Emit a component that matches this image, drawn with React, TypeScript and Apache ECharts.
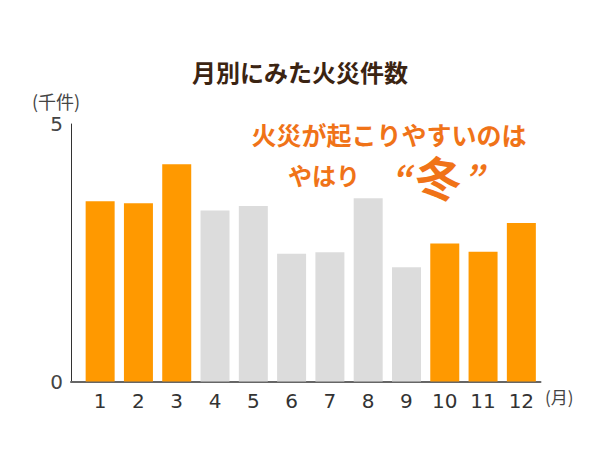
import React, { useEffect, useRef } from 'react';
import * as echarts from 'echarts';

// 月別火災件数（千件）
const months = ['1', '2', '3', '4', '5', '6', '7', '8', '9', '10', '11', '12'];
const fires = [3.5, 3.46, 4.22, 3.32, 3.41, 2.48, 2.51, 3.56, 2.22, 2.68, 2.52, 3.08];
// 冬の月を強調
const isWinter = [true, true, true, false, false, false, false, false, false, true, true, true];

const ORANGE = '#ff9900';
const GREY = '#dcdcdc';
const ACCENT = '#f07318';
const JP = '"Noto Sans CJK JP", sans-serif';
const NUM = '"DejaVu Sans", sans-serif';

const App: React.FC = () => {
  const chartRef = useRef<HTMLDivElement>(null);

  useEffect(() => {
    if (!chartRef.current) return;
    const chart = echarts.init(chartRef.current, null, { renderer: 'svg' });

    const accent = (text: string, size: number, extra: object = {}) => ({
      text,
      fontFamily: JP,
      fontSize: size,
      lineHeight: size,
      fontWeight: 'bold',
      fill: ACCENT,
      align: 'center',
      verticalAlign: 'middle',
      ...extra,
    });

    const option = {
      animation: false,
      backgroundColor: '#fff',
      title: {
        text: '月別にみた火災件数',
        left: 'center',
        top: 54,
        textStyle: { fontFamily: JP, fontSize: 24, fontWeight: 'bold', color: '#3b2412' },
      },
      grid: [
        // バー用
        { left: 81, right: 59.5, top: 124, bottom: 68.5 },
        // 軸線用
        { left: 71, right: 59.5, top: 124, bottom: 68.5 },
      ],
      xAxis: [
        {
          type: 'category',
          gridIndex: 0,
          data: months,
          axisLine: { show: false },
          axisTick: { show: false },
          axisLabel: { fontFamily: NUM, fontSize: 20, color: '#333', margin: 9 },
        },
        {
          type: 'value',
          gridIndex: 1,
          min: 0,
          max: 1,
          axisLine: { show: true, lineStyle: { color: '#666', width: 2 } },
          axisTick: { show: false },
          axisLabel: { show: false },
          splitLine: { show: false },
        },
      ],
      yAxis: [
        {
          type: 'value',
          gridIndex: 0,
          min: 0,
          max: 5,
          show: false,
        },
        {
          type: 'value',
          gridIndex: 1,
          min: 0,
          max: 5,
          interval: 5,
          axisLine: { show: true, lineStyle: { color: '#333', width: 1 } },
          axisTick: { show: false },
          splitLine: { show: false },
          axisLabel: { fontFamily: NUM, fontSize: 20, color: '#444', margin: 8 },
        },
      ],
      series: [
        {
          type: 'bar',
          xAxisIndex: 0,
          yAxisIndex: 0,
          barWidth: 29,
          data: fires.map((v, i) => ({
            value: v,
            itemStyle: { color: isWinter[i] ? ORANGE : GREY },
          })),
        },
      ],
      graphic: [
        {
          type: 'text',
          left: 32,
          top: 92,
          style: { text: '(千件)', fontFamily: JP, fontSize: 18, fill: '#444' },
        },
        {
          type: 'text',
          left: 545,
          top: 388,
          style: { text: '(月)', fontFamily: JP, fontSize: 17, fill: '#444' },
        },
        {
          type: 'text',
          x: 389,
          y: 134,
          style: accent('火災が起こりやすいのは', 25),
        },
        {
          type: 'text',
          x: 324,
          y: 174,
          style: accent('やはり', 24),
        },
        {
          type: 'text',
          x: 401,
          y: 176,
          style: accent('“', 34, { fontStyle: 'italic' }),
        },
        {
          type: 'text',
          x: 439,
          y: 176,
          rotation: -0.16,
          style: accent('冬', 46),
        },
        {
          type: 'text',
          x: 473,
          y: 176,
          style: accent('”', 34, { fontStyle: 'italic' }),
        },
      ],
    };

    chart.setOption(option);
    return () => chart.dispose();
  }, []);

  return <div ref={chartRef} style={{ width: 600, height: 450, margin: -8 }} />;
};

export default App;
